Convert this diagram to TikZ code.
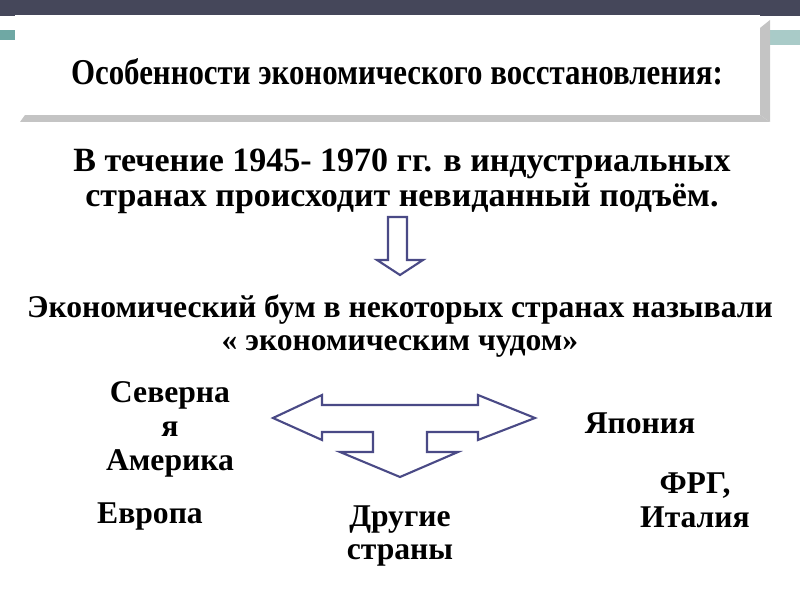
\documentclass[tikz,border=0pt]{standalone}
\usepackage{fontspec}
\setmainfont{Liberation Serif}
\definecolor{barcol}{HTML}{45475A}
\definecolor{tealcol}{HTML}{6FA8A4}
\definecolor{shadecol}{HTML}{C4C4C4}
\definecolor{arrowcol}{HTML}{4A4A86}
\tikzset{
  txt/.style={font=\fontsize{27}{29}\selectfont\bfseries, align=center},
  hollow/.style={draw=arrowcol, line width=1.8pt, fill=white, line join=miter}
}
\begin{document}
\begin{tikzpicture}[x=0.03cm, y=-0.03cm]
    \useasboundingbox (0,0) rectangle (800,600);
    % header band
    \fill[barcol] (0,0) rectangle (800,16);
    \fill[tealcol] (0,30) rectangle (15,40);
    \fill[tealcol!60] (770,30) rectangle (800,45);
    \fill[shadecol] (25,115) -- (760,115) -- (770,122) -- (20,122) -- cycle;
    \fill[shadecol] (760,28) -- (770,20) -- (770,122) -- (760,115) -- cycle;
    \fill[white] (15,15) rectangle (760,115);
    \node[font=\fontsize{31}{34}\selectfont\bfseries] (title) at (397,72)
        {\addfontfeature{FakeStretch=0.85}Особенности экономического восстановления:};

    \node[txt, font=\fontsize{29}{30}\selectfont\bfseries] (intro) at (402,181)
        {В течение 1945- 1970 гг. в индустриальных\\странах происходит невиданный подъём.};
    % down arrow
    \draw[hollow] (388,217) -- (407,217) -- (407,260) -- (423,260) -- (400,275)
        -- (377,260) -- (388,260) -- cycle;
    \node[txt, font=\fontsize{27}{28}\selectfont\bfseries] (boom) at (400,326)
        {Экономический бум в некоторых странах называли\\« экономическим чудом»};
    % three-way arrow
    \draw[hollow] (273,418) -- (322,395) -- (322,405) -- (478,405) -- (478,395)
        -- (535,418) -- (478,440) -- (478,432) -- (427,432) -- (427,452)
        -- (458,452) -- (400,477) -- (340,452) -- (373,452) -- (373,432)
        -- (322,432) -- (322,440) -- cycle;

    \node[txt] (amer) at (170,429) {Северна\\я\\Америка};
    \node[txt] (japan) at (640,423) {Япония};
    \node[txt] (frg) at (695,500) {ФРГ,\\Италия};
    \node[txt] (europe) at (150,517) {Европа};
    \node[txt] (other) at (400,536) {Другие\\страны};
\end{tikzpicture}
\end{document}
